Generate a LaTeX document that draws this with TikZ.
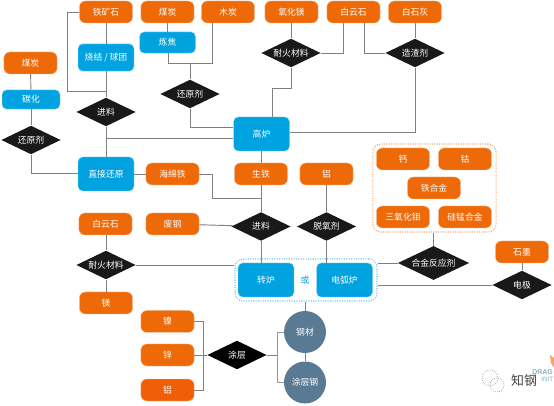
\documentclass[tikz,border=0pt]{standalone}
\usepackage{fontspec}
\setmainfont{Noto Sans CJK SC}
\newfontfamily\logofont{Liberation Sans}
\usepackage{xcolor}
\usepackage{tikz}
\usetikzlibrary{arrows.meta,positioning,shapes.geometric}
\definecolor{oreorange}{HTML}{EE6A08}
\definecolor{furnblue}{HTML}{00A3E0}
\definecolor{steelblue}{HTML}{5A7A94}
\definecolor{lineagent}{HTML}{808080}
\definecolor{logoteal}{HTML}{7FB0BE}

\begin{document}
\begin{tikzpicture}[
  x=0.75pt, y=-0.75pt,
  every node/.style={font=\fontsize{6.6}{7.5}\selectfont},
  raw/.style={rectangle, rounded corners=4.5pt, fill=oreorange, draw=oreorange!40, line width=0.3pt, text=white,
              minimum width=40pt, minimum height=16.5pt, inner sep=0pt},
  furnace/.style={rectangle, rounded corners=3.5pt, fill=furnblue, draw=furnblue!40, line width=0.3pt, text=white,
              minimum width=42pt, inner sep=0pt},
  agent/.style={diamond, fill=black!90, text=white, inner sep=0pt, aspect=2,
              minimum width=44.5pt, minimum height=21.5pt},
  product/.style={circle, fill=steelblue, text=white, minimum size=31.5pt, inner sep=0pt},
  group/.style={rectangle, rounded corners=6pt, densely dotted, line width=0.8pt},
  link/.style={draw=lineagent, line width=0.7pt}
]
\useasboundingbox (0,0) rectangle (554,406);
\node[raw] (ironore) at (106,12) {铁矿石};
\node[raw] (coaltop) at (167.5,12) {煤炭};
\node[raw] (charcoal) at (228,12) {木炭};
\node[raw] (magnesia) at (291.5,12) {氧化镁};
\node[raw] (dolotop) at (353.5,12) {白云石};
\node[raw] (lime) at (415,12) {白石灰};
\node[raw] (coalleft) at (30.5,63) {煤炭};
\node[furnace, minimum height=20.5pt] (sinter) at (106,57.5) {烧结 / 球团};
\node[furnace, minimum height=16pt] (coking) at (167.5,42.5) {炼焦};
\node[furnace, minimum width=43.5pt, minimum height=14.5pt] (carbon) at (31,99.5) {碳化};
\node[furnace, minimum height=25.5pt] (blast) at (261.5,134) {高炉};
\node[furnace, minimum height=25.5pt] (direct) at (106,174) {直接还原};
\node[raw] (sponge) at (172.5,174) {海绵铁};
\node[raw] (pigiron) at (261,174) {生铁};
\node[raw] (alutop) at (326.5,174) {铝};
\node[raw] (ca) at (403,159) {钙};
\node[raw] (co) at (465,159) {钴};
\node[raw] (feal) at (434,188) {铁合金};
\node[raw] (moo) at (403,217) {三氧化钼};
\node[raw] (simn) at (465,217) {硅锰合金};
\node[raw] (dololeft) at (105.5,224) {白云石};
\node[raw] (scrap) at (172.5,224) {废钢};
\node[raw] (mg) at (106,303) {镁};
\node[raw] (graphite) at (522,252) {石墨};
\node[raw] (ni) at (167.5,321.5) {镍};
\node[raw] (zn) at (167.5,355) {锌};
\node[raw, fill=oreorange!90!red] (alubot) at (167.5,390) {铝};
\node[agent] (feedtop) at (106,112) {进料};
\node[agent] (redleft) at (31,140) {还原剂};
\node[agent] (redmid) at (190,94) {还原剂};
\node[agent] (reftop) at (291,53) {耐火材料};
\node[agent] (slag) at (415,53) {造渣剂};
\node[agent] (feedbot) at (261,226.5) {进料};
\node[agent] (deox) at (326.5,226.5) {脱氧剂};
\node[agent] (refleft) at (106,265) {耐火材料};
\node[agent, minimum width=53.5pt, minimum height=25.5pt] (alloyagent) at (433.5,263) {合金反应剂};
\node[agent] (electrode) at (522,285) {电极};
\node[agent, fill=black] (coating) at (237,355) {涂层};
\node[furnace, minimum height=25.5pt] (converter) at (266,280) {转炉};
\node[furnace, minimum height=25.5pt] (arc) at (344.5,280) {电弧炉};
\node[text=furnblue] (orword) at (305,280) {或};
\node[product] (steel) at (305,332) {钢材};
\node[product] (coated) at (305,382.5) {涂层钢};
\node[group, draw=furnblue!60, minimum width=106.5pt, minimum height=31.5pt] (furngroup) at (306,280) {};
\node[group, draw=oreorange!60, minimum width=92.5pt, minimum height=66pt] (alloygroup) at (434.5,188) {};
\node[text=black!75, font=\fontsize{9.7}{10}\selectfont] (zhigang) at (524,381) {知钢};
\node[text=logoteal, font=\logofont\bfseries\fontsize{5.2}{6}\selectfont, anchor=west, inner sep=0pt] (logodrag) at (532,372) {DRAG};
\node[text=logoteal, font=\logofont\fontsize{4.8}{6}\selectfont, anchor=west, inner sep=0pt] (logoinit) at (541,379) {INIT};
\draw[black!45, densely dotted, line width=0.5pt] (490,378) circle (8);
\draw[black!45, densely dotted, line width=0.5pt] (497,385) circle (7);
\fill[oreorange!60] (550,355) -- (554,358) -- (554,368) -- (551,363) -- cycle;
\coordinate (oreleft) at (67,12);
\coordinate (orejoin) at (67,91);
\coordinate (orein) at (106,91);
\coordinate (feedmid) at (106,138);
\coordinate (cokdown) at (168,63);
\coordinate (chardown) at (212,63);
\coordinate (redtop) at (190,63);
\coordinate (redbot) at (190,127);
\coordinate (dolo1) at (343,53);
\coordinate (dolo2) at (364,53);
\coordinate (refa) at (291,88);
\coordinate (refb) at (272,88);
\coordinate (slagbot) at (415,132);
\coordinate (redleftbot) at (31,173);
\coordinate (spongea) at (212.5,174);
\coordinate (spongeb) at (212.5,198);
\coordinate (spongec) at (261,198);
\coordinate (coatleft) at (203.5,355);
\coordinate (coatright) at (277,355);
\draw[link] (ironore) -- (sinter);
\draw[link] (sinter) -- (feedtop);
\draw[link] (ironore.west) -- (oreleft) -- (orejoin) -- (orein);
\draw[link] (feedtop) -- (direct);
\draw[link] (feedmid) -- (feedmid -| blast.west);
\draw[link] (coaltop) -- (coking);
\draw[link] (coking.south -| cokdown) -- (cokdown) -- (chardown) -- (chardown |- charcoal.south);
\draw[link] (redtop) -- (redmid);
\draw[link] (redmid) -- (redbot) -- (redbot -| blast.west);
\draw[link] (coalleft) -- (carbon);
\draw[link] (carbon) -- (redleft);
\draw[link] (redleft) -- (redleftbot) -- (redleftbot -| direct.west);
\draw[link] (direct) -- (sponge);
\draw[link] (magnesia.south -| reftop) -- (reftop);
\draw[link] (dolotop.south -| dolo1) -- (dolo1) -- (reftop.east);
\draw[link] (dolotop.south -| dolo2) -- (dolo2) -- (slag.west);
\draw[link] (lime) -- (slag);
\draw[link] (reftop) -- (refa) -- (refb) -- (refb |- blast.north);
\draw[link] (slag) -- (slagbot) -- (slagbot -| blast.east);
\draw[link] (blast.south -| pigiron) -- (pigiron);
\draw[link] (pigiron) -- (feedbot);
\draw[link] (sponge.east) -- (spongea) -- (spongeb) -- (spongec);
\draw[link] (scrap) -- (feedbot);
\draw[link] (feedbot) -- (feedbot |- converter.north);
\draw[link] (alutop) -- (deox);
\draw[link] (deox) -- (deox |- arc.north);
\draw[link] (dololeft.south -| refleft) -- (refleft);
\draw[link] (refleft) -- (mg.north -| refleft);
\draw[link] (refleft.east) -- (refleft.east -| furngroup.west);
\draw[link] (alloygroup.south -| alloyagent) -- (alloyagent);
\draw[link] (alloyagent.west) -- (alloyagent.west -| furngroup.east);
\draw[link] (graphite) -- (electrode);
\draw[link] (electrode.west) -- (electrode.west -| furngroup.east);
\draw[link] (furngroup.south -| steel) -- (steel);
\draw[link] (steel) -- (coated);
\draw[link] (ni.east) -- (ni.east -| coatleft) -- (alubot.east -| coatleft) -- (alubot.east);
\draw[link] (zn) -- (coating);
\draw[link] (coating) -- (coatright);
\draw[link, draw=black!40] (steel.west) -- (steel.west -| coatright) -- (coated.west -| coatright) -- (coated.west);
\end{tikzpicture}
\end{document}
